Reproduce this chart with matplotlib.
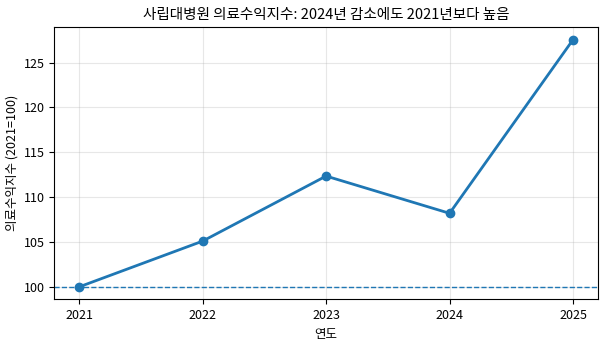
import matplotlib
matplotlib.use("Agg")
import matplotlib.pyplot as plt

plt.rcParams['font.family'] = ['Noto Sans CJK KR', 'DejaVu Sans']

years = [2021, 2022, 2023, 2024, 2025]
index = [100.0, 105.1, 112.35, 108.2, 127.55]

fig, ax = plt.subplots(figsize=(6.05, 3.5), dpi=100)
ax.plot(years, index, marker='o', linewidth=2, markersize=6, color='#1f77b4')
ax.axhline(100, linestyle='--', linewidth=1, color='#1f77b4')
ax.set_xticks(years)
ax.set_title("사립대병원 의료수익지수: 2024년 감소에도 2021년보다 높음", fontsize=10.5)
ax.set_xlabel("연도", fontsize=9)
ax.set_ylabel("의료수익지수 (2021=100)", fontsize=9)
ax.tick_params(labelsize=9)
ax.grid(True, alpha=0.3)
fig.subplots_adjust(left=0.09, right=0.988, top=0.922, bottom=0.145)
fig.savefig("out.png", dpi=100)
